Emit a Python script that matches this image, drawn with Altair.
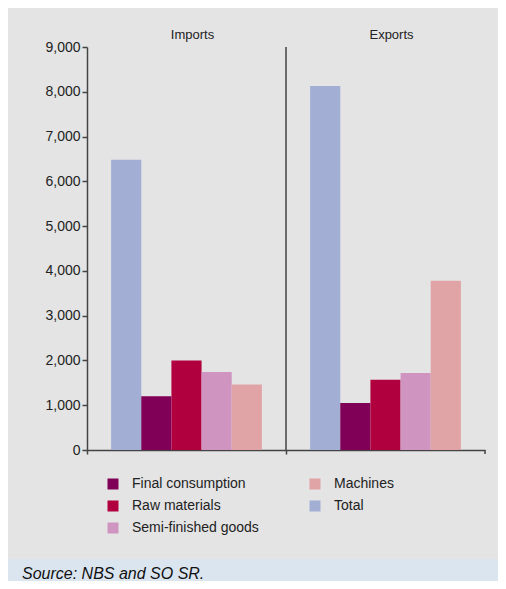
import altair as alt
import pandas as pd

flows = ["Imports", "Exports"]
categories = ["Total", "Final consumption", "Raw materials", "Semi-finished goods", "Machines"]
imports_vals = [6480, 1200, 2000, 1740, 1460]
exports_vals = [8130, 1050, 1570, 1720, 3780]
legend_order = ["Final consumption", "Raw materials", "Semi-finished goods", "Machines", "Total"]
legend_colors = ["#7f0056", "#b0003e", "#cf95c0", "#e0a3a6", "#a2aed4"]
y_ticks = [0, 1000, 2000, 3000, 4000, 5000, 6000, 7000, 8000, 9000]
source_text = ["Source: NBS and SO SR."]

rows = []
for f, vals in zip(flows, [imports_vals, exports_vals]):
    for c, v in zip(categories, vals):
        rows.append({"Flow": f, "Category": c, "Value": v})
df = pd.DataFrame(rows)

W, H = 398, 403
AXC = "#444444"
FONT = "Liberation Sans"

xscale = alt.Scale(domain=flows, paddingInner=0, paddingOuter=0)

bars = alt.Chart(df).mark_bar().encode(
    x=alt.X("Flow:N", scale=xscale, sort=flows,
            axis=alt.Axis(title=None, labels=False, bandPosition=0, tickSize=4,
                          domainColor=AXC, tickColor=AXC, domainWidth=1.5, tickWidth=1.5)),
    xOffset=alt.XOffset("Category:N", sort=categories,
                        scale=alt.Scale(domain=categories, paddingInner=0, paddingOuter=0.8)),
    y=alt.Y("Value:Q", scale=alt.Scale(domain=[0, 9000], nice=False),
            axis=alt.Axis(values=y_ticks, format=",.0f", title=None, grid=False, tickSize=5,
                          labelPadding=2, labelFontSize=14, labelFont=FONT, labelColor="#222222",
                          domainColor=AXC, tickColor=AXC, domainWidth=1.5, tickWidth=1.5)),
    color=alt.Color("Category:N",
                    scale=alt.Scale(domain=legend_order, range=legend_colors),
                    legend=alt.Legend(title=None, orient="none", legendX=19, legendY=430,
                                      columns=2, columnPadding=49, rowPadding=8,
                                      symbolType="square", symbolSize=121, symbolStrokeWidth=0,
                                      labelFontSize=14, labelFont=FONT, labelColor="#222222",
                                      labelOffset=12, padding=0)),
)

lab_df = pd.DataFrame({"Flow": flows})
labels = alt.Chart(lab_df).mark_text(fontSize=13, font=FONT, color="#222222",
                                     baseline="alphabetic", dx=6).encode(
    x=alt.X("Flow:N", scale=xscale, sort=flows),
    y=alt.value(-8),
    text="Flow:N",
)

div_df = pd.DataFrame({"Flow": ["Exports"]})
divider = alt.Chart(div_df).mark_rule(color=AXC, strokeWidth=1.5).encode(
    x=alt.X("Flow:N", scale=xscale, sort=flows, bandPosition=0),
    y=alt.value(0),
    y2=alt.value(H),
)
end_tick = alt.Chart(div_df).mark_rule(color=AXC, strokeWidth=1.5).encode(
    x=alt.X("Flow:N", scale=xscale, sort=flows, bandPosition=1),
    y=alt.value(H),
    y2=alt.value(H + 4),
)

src_df = pd.DataFrame({"t": source_text})
strip = alt.Chart(src_df).mark_rect(color="#dbe5f0").encode(
    x=alt.value(-79), x2=alt.value(411), y=alt.value(512), y2=alt.value(540),
)
src = alt.Chart(src_df).mark_text(align="left", baseline="alphabetic", fontSize=16,
                                  fontStyle="italic", font=FONT,
                                  color="#111111").encode(
    x=alt.value(-65), y=alt.value(532), text="t:N",
)

chart = alt.layer(strip, src, bars, labels, divider, end_tick).properties(
    width=W, height=H,
    padding={"left": 79, "top": 39, "right": 13, "bottom": 131},
    autosize=alt.AutoSizeParams(type="none"),
).configure(background="#e4e4e4").configure_view(stroke=None)

chart.save("out.html", embed_options={"renderer": "svg", "actions": False})
